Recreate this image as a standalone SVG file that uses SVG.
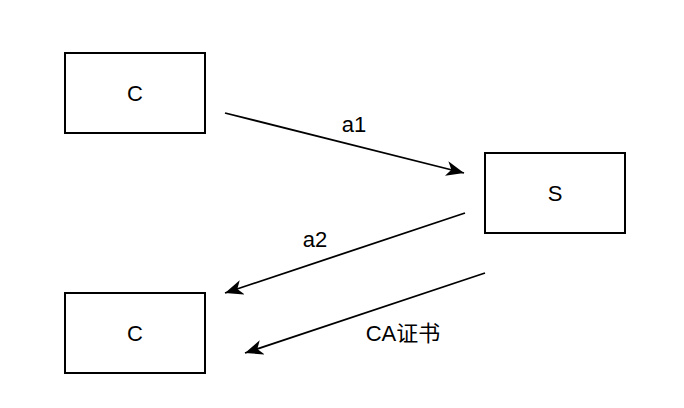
<svg xmlns="http://www.w3.org/2000/svg" width="684" height="408" viewBox="0 0 684 408">
<style>
.box{fill:#fff;stroke:#000;stroke-width:2}
.edge{fill:none;stroke:#000;stroke-width:1.8}
text{font-family:"Liberation Sans","Noto Sans CJK SC",sans-serif;font-size:22px;fill:#000;text-anchor:middle}
</style>
<defs>
<marker id="arr" markerUnits="userSpaceOnUse" markerWidth="20" markerHeight="16" refX="18" refY="7.5" orient="auto" viewBox="0 0 20 16">
<path d="M0,0 L18,7.5 L0,15 L5,7.5 Z" fill="#000"/>
</marker>
</defs>
<rect width="684" height="408" fill="#fff"/>
<g id="node-c1"><rect class="box" x="65" y="53" width="140" height="80"/><text x="135" y="101">C</text></g>
<g id="node-s"><rect class="box" x="485" y="153" width="140" height="80"/><text x="555" y="201">S</text></g>
<g id="node-c2"><rect class="box" x="65" y="293" width="140" height="80"/><text x="135" y="341">C</text></g>
<g id="connectors">
<line class="edge" x1="225" y1="113" x2="464" y2="173" marker-end="url(#arr)"/>
<line class="edge" x1="465" y1="213" x2="225" y2="293" marker-end="url(#arr)"/>
<line class="edge" x1="485" y1="273" x2="245" y2="353" marker-end="url(#arr)"/>
<text x="354" y="132">a1</text>
<text x="315" y="247">a2</text>
<text x="403" y="341">CA证书</text>
</g>
</svg>
